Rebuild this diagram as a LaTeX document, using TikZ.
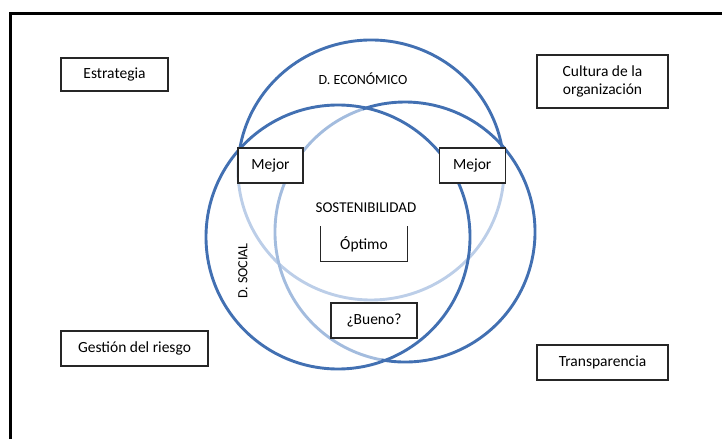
\documentclass[tikz,border=0pt]{standalone}
\usepackage{fontspec}
\setmainfont{Carlito}
\usetikzlibrary{positioning}

\definecolor{azul}{RGB}{66,112,178}
\definecolor{azulclaro}{RGB}{163,188,222}
\definecolor{azulpalido}{RGB}{188,206,232}

\tikzset{
  caja/.style={draw=black!85, fill=white, line width=1.2pt, inner sep=0pt,
    font=\fontsize{15.5}{18}\selectfont},
  etiqueta/.style={inner sep=1pt, font=\fontsize{14}{16}\selectfont},
  aro/.style={draw=azul, line width=2.9pt},
  aroclaro/.style={draw=azulclaro, line width=2.9pt},
}

\begin{document}
\begin{tikzpicture}[x=1pt,y=1pt]
  \useasboundingbox (0,0) rectangle (722,-439);
  % marco
  \draw[line width=2.4pt] (10.5,-439) -- (10.5,-13.5) -- (722,-13.5);

  % centros de las dimensiones
  \coordinate (eco) at (371,-170);
  \coordinate (soc) at (338,-237);
  \coordinate (amb) at (405,-232);

  % tramos claros
  \draw[aroclaro, draw=azulpalido] (eco) ++(171:133pt and 130pt)
    arc[start angle=171, end angle=369, x radius=133pt, y radius=130pt];
  \draw[aroclaro] (amb) ++(109:130pt) arc[start angle=109, end angle=259.5, radius=130pt];
  % tramos oscuros
  \draw[aro] (eco) ++(9:133pt and 130pt)
    arc[start angle=9, end angle=171, x radius=133pt, y radius=130pt];
  \draw[aro] (amb) ++(-100.5:130pt) arc[start angle=-100.5, end angle=109, radius=130pt];
  \draw[aro] (soc) circle[radius=132pt];

  % cajas
  \node[caja, minimum width=107pt, minimum height=33pt] (estrategia) at (114.5,-74.5) {Estrategia};
  \node[caja, minimum width=131pt, minimum height=53pt, align=center] (cultura) at (602.5,-81.5) {Cultura de la\\organización};
  \node[caja, minimum width=147pt, minimum height=35pt] (riesgo) at (134.5,-348.5) {Gestión del riesgo};
  \node[caja, minimum width=131pt, minimum height=35pt] (transparencia) at (602.5,-362.5) {Transparencia};
  \node[caja, minimum width=65pt, minimum height=35pt] (mejorA) at (270.5,-165.5) {Mejor};
  \node[caja, minimum width=66pt, minimum height=35pt, right=135pt of mejorA] (mejorB) {Mejor};

  \node[etiqueta, fill=white, font=\fontsize{15}{17}\selectfont] (sost) at (366,-208) {SOSTENIBILIDAD};
  \node[caja, draw=none, minimum width=86pt, minimum height=34pt] (optimo) at (364,-244) {Óptimo};
  \draw[black!85, line width=1.2pt] (optimo.north west) -- (optimo.south west)
    -- (optimo.south east) -- (optimo.north east);
  \node[caja, minimum width=86pt, minimum height=35pt] (bueno) at (374,-320.5) {¿Bueno?};

  \node[etiqueta] (economico) at (363,-79) {D. ECONÓMICO};
  \node[etiqueta, rotate=90] (social) at (243,-271) {D. SOCIAL};
\end{tikzpicture}
\end{document}
